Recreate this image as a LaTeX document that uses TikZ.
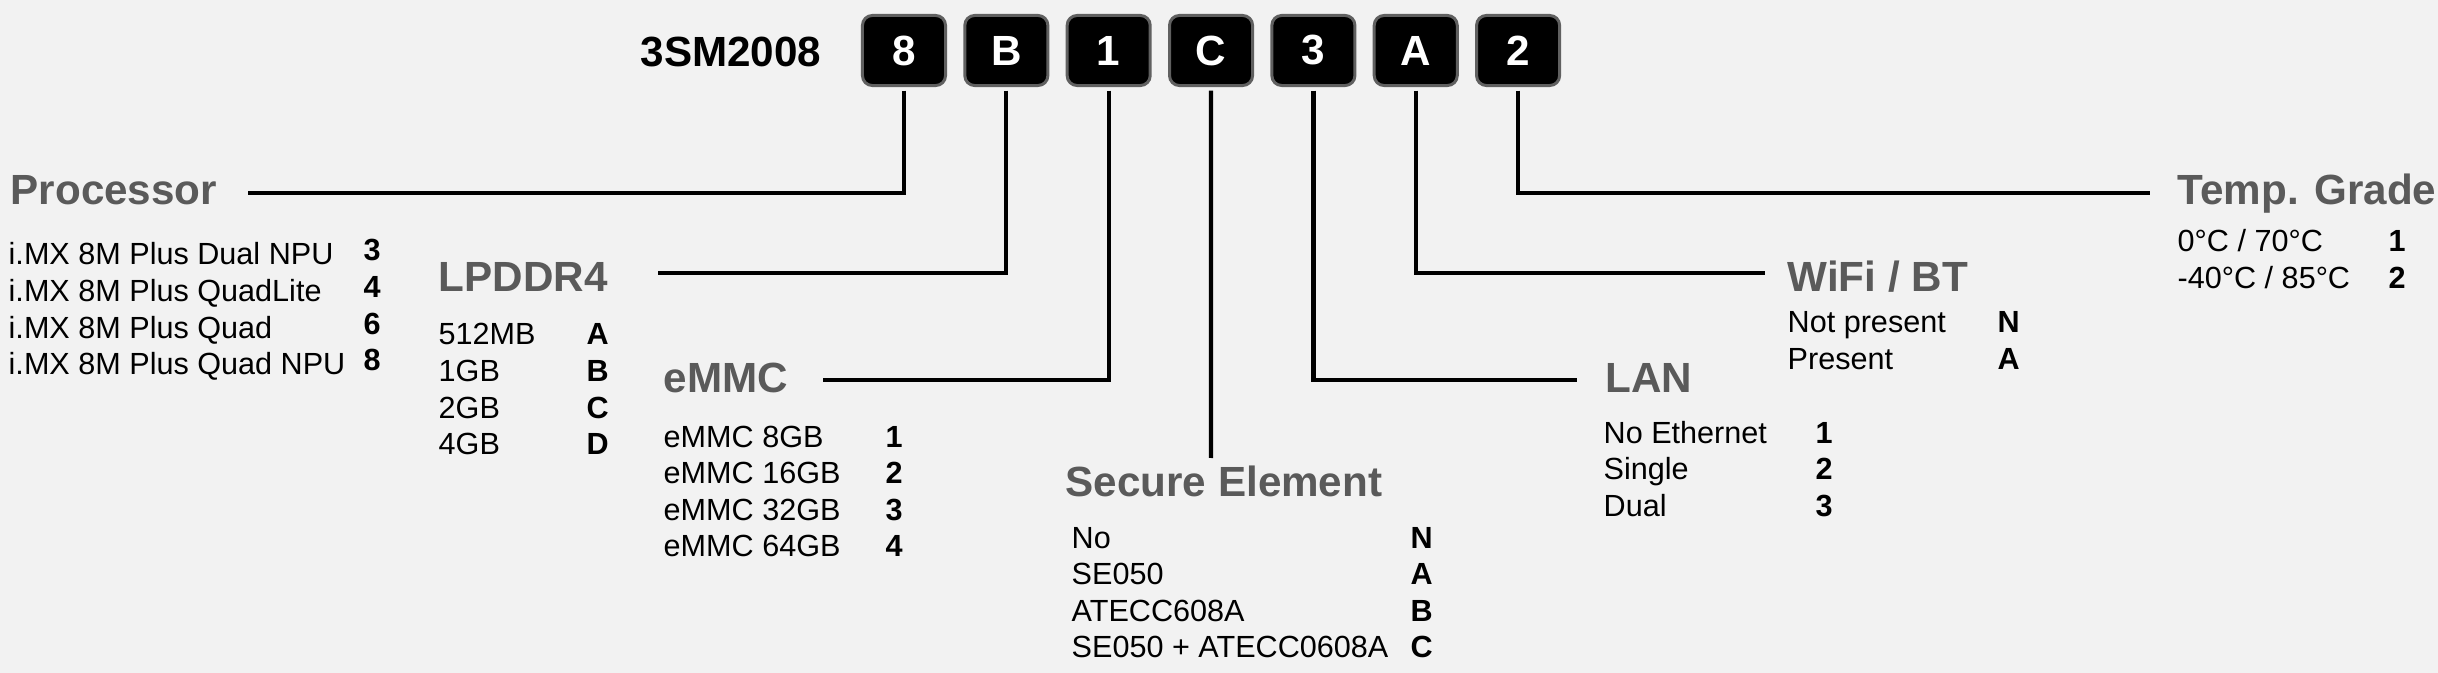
\documentclass[tikz,border=0pt]{standalone}
\usepackage{fontspec}
\setmainfont{Liberation Sans}
\usepackage{tikz}
\usetikzlibrary{positioning}
\definecolor{bgc}{HTML}{F2F2F2}
\definecolor{headc}{HTML}{5A5A5A}
\definecolor{rimc}{HTML}{606060}

\begin{document}
\begin{tikzpicture}[
  x=0.01cm, y=-0.01cm,
  node distance=0.163cm,
  code/.style={draw=rimc,fill=black,line width=0.85pt,rounded corners=2.8pt,minimum width=0.83cm,minimum height=0.70cm,inner sep=0pt,text=white,font=\fontsize{12}{14}\selectfont\bfseries},
  pnum/.style={anchor=base west,inner sep=0pt,font=\fontsize{12}{14}\selectfont\bfseries},
  head/.style={anchor=base west,inner sep=0pt,text=headc,font=\fontsize{12}{14}\selectfont\bfseries},
  opts/.style={anchor=base west,inner sep=0pt,font=\fontsize{8.7}{10.4}\selectfont},
  vals/.style={opts,font=\fontsize{8.7}{10.4}\selectfont\bfseries},
  lead/.style={line width=1.2pt,shorten <=1pt}
]
  \fill[bgc] (0,0) rectangle (2438,673);

  % part number and code boxes
  \node[pnum] (pn) at (640,67) {3SM2008};
  \node[code] (c8) at (904,50.5) {8};
  \node[code,right=of c8] (cB) {B};
  \node[code,right=of cB] (c1) {1};
  \node[code,right=of c1] (cC) {C};
  \node[code,right=of cC] (c3) {3};
  \node[code,right=of c3] (cA) {A};
  \node[code,right=of cA] (c2) {2};

  % option groups
  \node[head] (cpu) at (10,205) {Processor};
  \node[opts] (cpu-opts) at (8,265) {\begin{tabular}[t]{@{}l@{}}
    i.MX 8M Plus Dual NPU\\
    i.MX 8M Plus QuadLite\\
    i.MX 8M Plus Quad\\
    i.MX 8M Plus Quad NPU
  \end{tabular}};
  \node[vals] (cpu-vals) at (363,261) {\begin{tabular}[t]{@{}l@{}}3\\4\\6\\8\end{tabular}};

  \node[head] (ram) at (438,292) {LPDDR4};
  \node[opts] (ram-opts) at (438,345) {\begin{tabular}[t]{@{}l@{}}
    512MB\\
    1GB\\
    2GB\\
    4GB
  \end{tabular}};
  \node[vals] (ram-vals) at (586,345) {\begin{tabular}[t]{@{}l@{}}A\\B\\C\\D\end{tabular}};

  \node[head] (emmc) at (663,393) {eMMC};
  \node[opts] (emmc-opts) at (663,447) {\begin{tabular}[t]{@{}l@{}}
    eMMC 8GB\\
    eMMC 16GB\\
    eMMC 32GB\\
    eMMC 64GB
  \end{tabular}};
  \node[vals] (emmc-vals) at (885,447) {\begin{tabular}[t]{@{}l@{}}1\\2\\3\\4\end{tabular}};

  \node[head] (se) at (1065,497) {Secure Element};
  \node[opts] (se-opts) at (1071,548) {\begin{tabular}[t]{@{}l@{}}
    No\\
    SE050\\
    ATECC608A\\
    SE050 + ATECC0608A
  \end{tabular}};
  \node[vals] (se-vals) at (1410,548) {\begin{tabular}[t]{@{}l@{}}N\\A\\B\\C\end{tabular}};

  \node[head] (lan) at (1605,393) {LAN};
  \node[opts] (lan-opts) at (1603,443) {\begin{tabular}[t]{@{}l@{}}
    No Ethernet\\
    Single\\
    Dual
  \end{tabular}};
  \node[vals] (lan-vals) at (1815,443) {\begin{tabular}[t]{@{}l@{}}1\\2\\3\end{tabular}};

  \node[head] (wifi) at (1787,292) {WiFi / BT};
  \node[opts] (wifi-opts) at (1787,333) {\begin{tabular}[t]{@{}l@{}}
    Not present\\
    Present
  \end{tabular}};
  \node[vals] (wifi-vals) at (1997,333) {\begin{tabular}[t]{@{}l@{}}N\\A\end{tabular}};

  \node[head] (temp) at (2177,205) {Temp. Grade};
  \node[opts] (temp-opts) at (2177,252) {\begin{tabular}[t]{@{}l@{}}
    0°C / 70°C\\
    -40°C / 85°C
  \end{tabular}};
  \node[vals] (temp-vals) at (2388,252) {\begin{tabular}[t]{@{}l@{}}1\\2\end{tabular}};

  % leader lines
  \coordinate (cpu-end) at (248,193);
  \coordinate (ram-end) at (658,273);
  \coordinate (emmc-end) at (823,380);
  \coordinate (se-end) at (1211,458);
  \coordinate (lan-end) at (1577,380);
  \coordinate (wifi-end) at (1765,273);
  \coordinate (temp-end) at (2150,193);
  \draw[lead] (c8.south) |- (cpu-end);
  \draw[lead] (cB.south) |- (ram-end);
  \draw[lead] (c1.south) |- (emmc-end);
  \draw[lead] (cC.south) -- (se-end);
  \draw[lead] (c3.south) |- (lan-end);
  \draw[lead] (cA.south) |- (wifi-end);
  \draw[lead] (c2.south) |- (temp-end);
\end{tikzpicture}
\end{document}
